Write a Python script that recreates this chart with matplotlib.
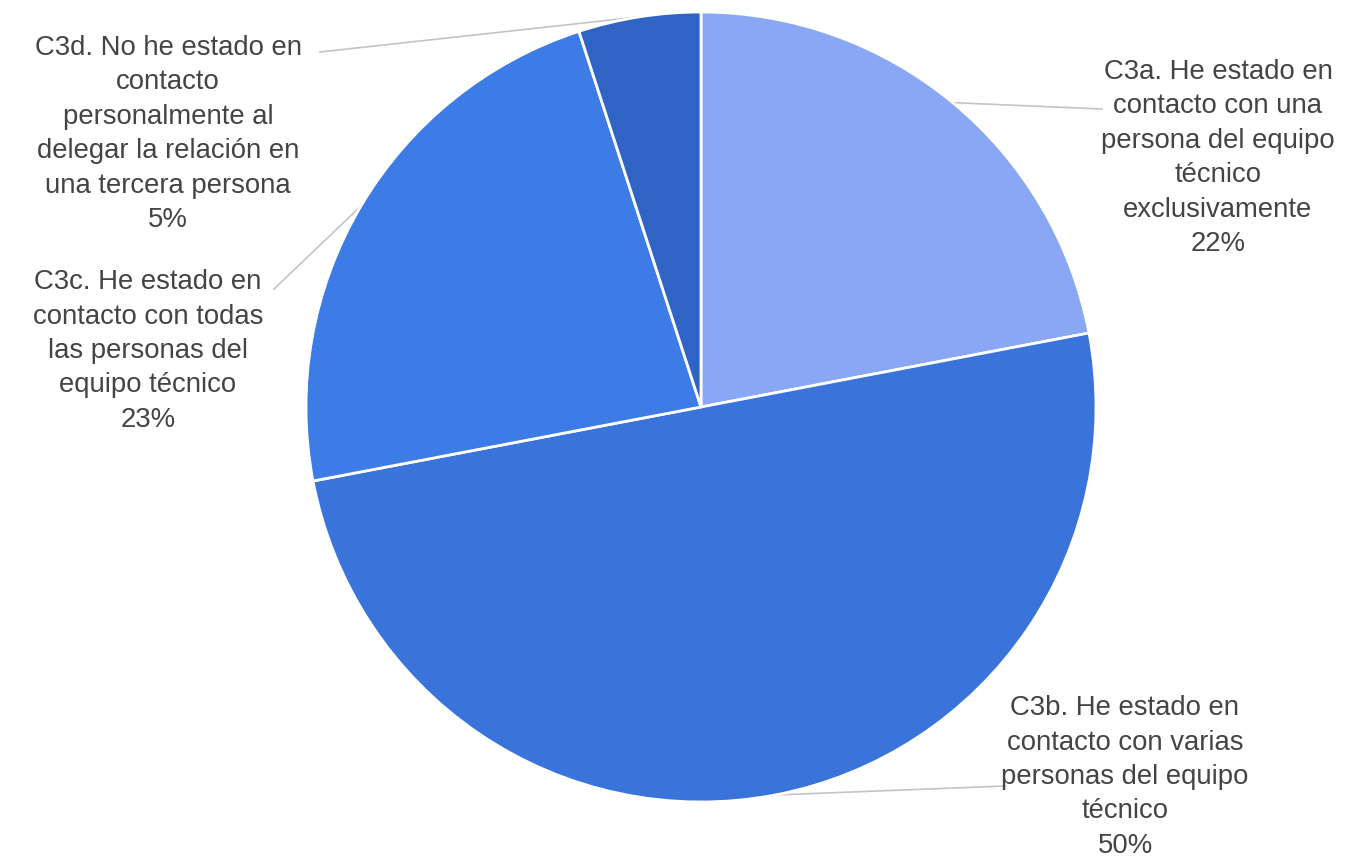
import numpy as np
import matplotlib.pyplot as plt

plt.rcParams['font.family'] = ['Liberation Sans', 'DejaVu Sans']

etiquetas = [
    'C3a. He estado en\ncontacto con una\npersona del equipo\ntécnico\nexclusivamente',
    'C3b. He estado en\ncontacto con varias\npersonas del equipo\ntécnico',
    'C3c. He estado en\ncontacto con todas\nlas personas del\nequipo técnico',
    'C3d. No he estado en\ncontacto\npersonalmente al\ndelegar la relación en\nuna tercera persona',
]
valores = [22, 50, 23, 5]
colores = ['#8aa7f5', '#3a74db', '#3d7be6', '#2f63c4']

# posiciones de las etiquetas (pixeles, y hacia arriba) y fin de la linea guia
pos_texto = [(1218, 704), (1125, 85), (148, 511), (168, 728)]
fin_linea = [(1102, 752), (1005, 75), (274, 572), (320, 809)]

W, H = 1367, 862
fig = plt.figure(figsize=(W / 100, H / 100), dpi=100)
ax = fig.add_axes([0, 0, 1, 1])

cx, cy, r = 701, H - 408, 395
wedges, _ = ax.pie(valores, colors=colores, startangle=90, counterclock=False,
                   center=(cx, cy), radius=r,
                   wedgeprops=dict(edgecolor='white', linewidth=2))

total = sum(valores)
for w, et, v, (tx, ty), (lx, ly) in zip(wedges, etiquetas, valores, pos_texto, fin_linea):
    ang = np.deg2rad((w.theta1 + w.theta2) / 2)
    px, py = cx + r * np.cos(ang), cy + r * np.sin(ang)
    ax.plot([px, lx], [py, ly], color='#c4c4c4', lw=1.2, zorder=0)
    ax.text(tx, ty, f'{et}\n{round(v / total * 100)}%', ha='center', va='center',
            multialignment='center', fontsize=19.8, linespacing=1.42, color='#444444')

ax.set_xlim(0, W)
ax.set_ylim(0, H)
ax.set_aspect('equal')
ax.axis('off')

plt.savefig('out.png', dpi=100, facecolor='white')
